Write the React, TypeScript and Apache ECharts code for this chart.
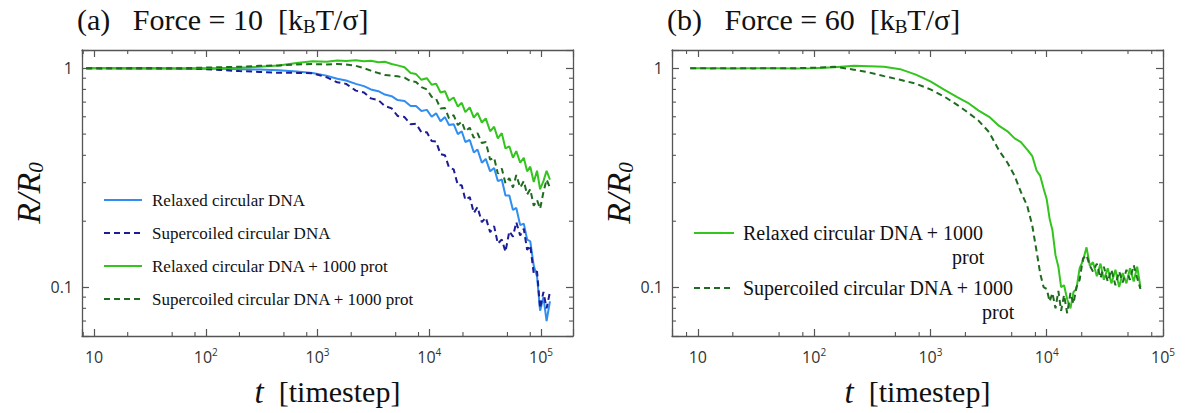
import React, { useEffect, useRef } from 'react';
import * as echarts from 'echarts';

// ---------- Data ----------
// Panel (a): Force = 10
const tLeft = [8.5, 12, 18, 27, 40, 60, 90, 135, 200, 300, 450, 650, 900, 1200, 1500, 1800, 2200, 2600, 3000, 3500, 4000, 4600, 5200, 6000, 6800, 7600, 8500, 9500, 10500, 11500, 12600, 13800, 15000, 16500, 18000, 19500, 21000, 23000, 25000, 27000, 29500, 32000, 35000, 38000, 41000, 44500, 48000, 52000, 56000, 60000, 65000, 70000, 75000, 80000, 86000, 92000, 98000, 105000, 112000, 120000];
const relaxedF10 = [1.0, 1.0, 0.997, 1.0, 0.996, 0.998, 0.995, 0.993, 0.99, 0.986, 0.978, 0.965, 0.95, 0.925, 0.895, 0.878, 0.848, 0.828, 0.8, 0.785, 0.758, 0.745, 0.715, 0.708, 0.672, 0.672, 0.638, 0.645, 0.6, 0.622, 0.572, 0.598, 0.55, 0.555, 0.5, 0.515, 0.46, 0.47, 0.412, 0.425, 0.37, 0.385, 0.338, 0.35, 0.305, 0.31, 0.262, 0.262, 0.225, 0.23, 0.192, 0.195, 0.165, 0.162, 0.125, 0.112, 0.078, 0.09, 0.07, 0.086];
const supercoiledF10 = [1.0, 0.998, 1.0, 0.996, 0.998, 0.995, 0.992, 0.982, 0.97, 0.962, 0.953, 0.952, 0.948, 0.91, 0.862, 0.848, 0.79, 0.775, 0.728, 0.715, 0.672, 0.655, 0.605, 0.598, 0.555, 0.558, 0.51, 0.51, 0.465, 0.462, 0.405, 0.4, 0.352, 0.345, 0.292, 0.292, 0.25, 0.258, 0.218, 0.232, 0.198, 0.208, 0.178, 0.19, 0.158, 0.165, 0.145, 0.18, 0.17, 0.198, 0.172, 0.185, 0.148, 0.155, 0.115, 0.118, 0.08, 0.095, 0.08, 0.095];
const relaxedProtF10 = [1.0, 1.0, 1.002, 1.0, 1.0, 0.998, 1.0, 1.002, 1.005, 1.015, 1.03, 1.055, 1.075, 1.07, 1.085, 1.078, 1.088, 1.075, 1.082, 1.065, 1.07, 1.045, 1.03, 1.01, 0.95, 0.94, 0.885, 0.9, 0.84, 0.85, 0.775, 0.785, 0.71, 0.735, 0.668, 0.695, 0.63, 0.662, 0.595, 0.625, 0.565, 0.59, 0.515, 0.54, 0.478, 0.505, 0.43, 0.44, 0.39, 0.418, 0.37, 0.39, 0.338, 0.355, 0.302, 0.34, 0.28, 0.305, 0.34, 0.31];
const supercoiledProtF10 = [1.0, 1.0, 1.0, 1.003, 1.0, 1.0, 1.005, 1.01, 1.015, 1.025, 1.03, 1.04, 1.045, 1.04, 1.045, 1.04, 1.025, 1.0, 0.975, 0.95, 0.93, 0.925, 0.918, 0.905, 0.872, 0.865, 0.82, 0.8, 0.74, 0.725, 0.655, 0.658, 0.59, 0.61, 0.55, 0.57, 0.515, 0.535, 0.48, 0.505, 0.455, 0.46, 0.382, 0.39, 0.33, 0.348, 0.298, 0.315, 0.285, 0.325, 0.285, 0.305, 0.265, 0.28, 0.235, 0.25, 0.228, 0.272, 0.31, 0.285];

// Panel (b): Force = 60
const tRight = [8.6, 13, 20, 30, 45, 70, 100, 150, 220, 300, 400, 550, 750, 1000, 1300, 1700, 2100, 2600, 3200, 3900, 4600, 5300, 6000, 6800, 7500, 8200, 8800, 9400, 10000, 10600, 11200, 11900, 12600, 13300, 14100, 15000, 16000, 17000, 18000, 19200, 20500, 22000, 23500, 25000, 27000, 29000, 31000, 33500, 36000, 39000, 42000, 45000, 48500, 52000, 56000, 60000, 64000];
const relaxedProtF60 = [1.0, 1.0, 0.998, 1.0, 1.0, 0.998, 1.0, 1.01, 1.025, 1.022, 1.015, 0.99, 0.935, 0.87, 0.8, 0.738, 0.695, 0.64, 0.6, 0.545, 0.515, 0.478, 0.46, 0.425, 0.398, 0.34, 0.322, 0.282, 0.252, 0.205, 0.182, 0.14, 0.124, 0.1, 0.102, 0.088, 0.08, 0.095, 0.098, 0.122, 0.132, 0.152, 0.125, 0.13, 0.112, 0.128, 0.108, 0.122, 0.104, 0.12, 0.1, 0.116, 0.104, 0.122, 0.106, 0.124, 0.1];
const supercoiledProtF60 = [1.0, 0.998, 1.0, 0.998, 1.0, 1.0, 1.005, 1.015, 0.985, 0.955, 0.92, 0.885, 0.85, 0.8, 0.745, 0.68, 0.628, 0.575, 0.51, 0.42, 0.37, 0.322, 0.272, 0.235, 0.192, 0.145, 0.115, 0.1, 0.098, 0.086, 0.094, 0.08, 0.096, 0.078, 0.092, 0.076, 0.094, 0.084, 0.1, 0.108, 0.135, 0.14, 0.125, 0.118, 0.128, 0.11, 0.124, 0.106, 0.12, 0.102, 0.118, 0.105, 0.12, 0.108, 0.126, 0.11, 0.098];

const seriesNames = [
  'Relaxed circular DNA',
  'Supercoiled circular DNA',
  'Relaxed circular DNA + 1000 prot',
  'Supercoiled circular DNA + 1000 prot',
];

// Axis ranges and tick positions
const xRangeLeft = [7.8, 1.93e5];
const xRangeRight = [6.0, 1.0e5];
const yRange = [0.0598, 1.211];
const xMinorTicks = [8, 20, 50, 80, 200, 500, 800, 2000, 5000, 8000, 20000, 50000, 80000];
const yMinorTicks = [0.07, 0.08, 0.09, 0.2, 0.3, 0.4, 0.5, 0.6, 0.7, 0.8, 0.9];

// ---------- Styles ----------
const SERIF = 'Liberation Serif';
const SANS = 'Open Sans';
const AXIS_COLOR = '#555';
const COLORS = {
  relaxed: '#2f8ef0',
  supercoiled: '#1c1c96',
  relaxedProt: '#33c41e',
  supercoiledProt: '#1f6b1f',
};

const zip = (t: number[], r: number[]) => t.map((v, i) => [v, r[i]]);
const isPow10 = (v: number) => {
  const e = Math.log10(v);
  return Math.abs(e - Math.round(e)) < 1e-6;
};
const xLabelFmt = (v: number) => {
  if (!isPow10(v)) return '';
  const e = Math.round(Math.log10(v));
  return e === 1 ? '10' : `10{sup|${e}}`;
};
const yLabelFmt = (v: number) => {
  if (!isPow10(v)) return '';
  const e = Math.round(Math.log10(v));
  return e === 0 ? '1' : String(Math.pow(10, e));
};

const axisLine = { show: true, onZero: false, lineStyle: { color: AXIS_COLOR, width: 1.3 } };
const axisTick = { show: true, inside: true, length: 7, lineStyle: { color: AXIS_COLOR, width: 1.2 } };

function makeX(gridIndex: number, range: number[], position: 'bottom' | 'top', withLabels: boolean) {
  return {
    type: 'log',
    logBase: 10,
    gridIndex,
    position,
    min: range[0],
    max: range[1],
    splitNumber: 5,
    axisLine,
    axisTick,
    splitLine: { show: false },
    minorTick: { show: false },
    axisLabel: withLabels
      ? {
          show: true,
          margin: 11,
          interval: 0,
          showMinLabel: true,
          showMaxLabel: true,
          formatter: xLabelFmt,
          fontFamily: SANS,
          fontSize: 16,
          color: '#333',
          lineHeight: 20,
          rich: {
            sup: { fontFamily: SANS, fontSize: 10, color: '#333', verticalAlign: 'top', lineHeight: 12 },
          },
        }
      : { show: false },
    name: withLabels ? '{i|t}  [timestep]' : '',
    nameLocation: 'middle',
    nameGap: 39,
    nameTextStyle: {
      fontFamily: SERIF,
      fontSize: 30,
      color: '#111',
      rich: { i: { fontFamily: SERIF, fontSize: 33, fontStyle: 'italic', color: '#111' } },
    },
  };
}

function makeY(gridIndex: number, position: 'left' | 'right', withLabels: boolean, nameGap: number) {
  return {
    type: 'log',
    logBase: 10,
    gridIndex,
    position,
    min: yRange[0],
    max: yRange[1],
    axisLine,
    axisTick,
    splitLine: { show: false },
    minorTick: { show: false },
    axisLabel: withLabels
      ? { show: true, margin: 9, formatter: yLabelFmt, fontFamily: SANS, fontSize: 16, color: '#333', showMinLabel: true, showMaxLabel: true }
      : { show: false },
    name: withLabels ? '{i|R/R}{s|0}' : '',
    nameLocation: 'middle',
    nameRotate: 90,
    nameGap,
    nameTextStyle: {
      color: '#111',
      rich: {
        i: { fontFamily: SERIF, fontSize: 34, fontStyle: 'italic', color: '#111', lineHeight: 36 },
        s: { fontFamily: SERIF, fontSize: 21, fontStyle: 'italic', color: '#111', verticalAlign: 'bottom', lineHeight: 20 },
      },
    },
  };
}

function minorTickSeries(xAxisIndex: number, yAxisIndex: number, xRange: number[]) {
  const tickStyle = { stroke: AXIS_COLOR, lineWidth: 1.1 };
  const xs = xMinorTicks.filter((v) => v > xRange[0] && v < xRange[1]);
  const xSeries = {
    type: 'custom',
    xAxisIndex,
    yAxisIndex,
    silent: true,
    clip: false,
    z: 5,
    data: xs.map((v) => [v, 0.5]),
    renderItem: (params: any, api: any) => {
      const cs = params.coordSys;
      const x = api.coord([api.value(0), api.value(1)])[0];
      const b = cs.y + cs.height;
      const t = cs.y;
      return {
        type: 'group',
        children: [
          { type: 'line', shape: { x1: x, y1: b, x2: x, y2: b - 4 }, style: tickStyle },
          { type: 'line', shape: { x1: x, y1: t, x2: x, y2: t + 4 }, style: tickStyle },
        ],
      };
    },
  };
  const ySeries = {
    type: 'custom',
    xAxisIndex,
    yAxisIndex,
    silent: true,
    clip: false,
    z: 5,
    data: yMinorTicks.map((v) => [100, v]),
    renderItem: (params: any, api: any) => {
      const cs = params.coordSys;
      const y = api.coord([api.value(0), api.value(1)])[1];
      const l = cs.x;
      const r = cs.x + cs.width;
      return {
        type: 'group',
        children: [
          { type: 'line', shape: { x1: l, y1: y, x2: l + 4, y2: y }, style: tickStyle },
          { type: 'line', shape: { x1: r, y1: y, x2: r - 4, y2: y }, style: tickStyle },
        ],
      };
    },
  };
  return [xSeries, ySeries];
}

function lineSeries(name: string, data: number[][], color: string, dashed: boolean, xAxisIndex: number, yAxisIndex: number) {
  return {
    type: 'line',
    name,
    data,
    xAxisIndex,
    yAxisIndex,
    showSymbol: false,
    symbol: 'none',
    color,
    lineStyle: { color, width: 2, type: dashed ? [6, 4] : 'solid' },
    z: 3,
  };
}

const legendTextBase = { fontFamily: SERIF, color: '#111' };

const titleStyle = {
  fontFamily: SERIF,
  fontSize: 30,
  fontWeight: 'normal',
  color: '#111',
  lineHeight: 34,
  rich: { sub: { fontFamily: SERIF, fontSize: 19, color: '#111', verticalAlign: 'bottom', lineHeight: 19 } },
};

const option = {
  animation: false,
  backgroundColor: '#fff',
  title: [
    { left: 77, top: 2, padding: 0, text: '(a)   Force = 10  [k{sub|B}T/σ]', textStyle: titleStyle },
    { left: 667, top: 2, padding: 0, text: '(b)   Force = 60  [k{sub|B}T/σ]', textStyle: titleStyle },
  ],
  grid: [
    { left: 82, top: 50, width: 491, height: 287.5, containLabel: false },
    { left: 672, top: 50, width: 491, height: 287.5, containLabel: false },
  ],
  xAxis: [
    makeX(0, xRangeLeft, 'bottom', true),
    makeX(0, xRangeLeft, 'top', false),
    makeX(1, xRangeRight, 'bottom', true),
    makeX(1, xRangeRight, 'top', false),
  ],
  yAxis: [
    makeY(0, 'left', true, 36),
    makeY(0, 'right', false, 0),
    makeY(1, 'left', true, 22),
    makeY(1, 'right', false, 0),
  ],
  legend: [
    {
      left: 103,
      top: 190,
      padding: 0,
      orient: 'vertical',
      itemWidth: 38,
      itemHeight: 14,
      itemGap: 13,
      selectedMode: false,
      data: seriesNames,
      itemStyle: { opacity: 0 },
      textStyle: { ...legendTextBase, fontSize: 17, lineHeight: 20, padding: [0, 0, 0, 5] },
    },
    {
      left: 693,
      top: 197,
      padding: 0,
      orient: 'vertical',
      itemWidth: 40,
      itemHeight: 14,
      itemGap: -17,
      selectedMode: false,
      data: [seriesNames[2], seriesNames[3]],
      itemStyle: { opacity: 0 },
      formatter: (name: string) => {
        const first = name.replace(' prot', '');
        return `\n{m|${first}}\n{r|prot}`;
      },
      textStyle: {
        ...legendTextBase,
        fontSize: 20,
        lineHeight: 24,
        padding: [0, 0, 0, 4],
        rich: {
          m: { ...legendTextBase, fontSize: 20, lineHeight: 24 },
          r: { ...legendTextBase, fontSize: 20, lineHeight: 24, align: 'right' },
        },
      },
    },
  ],
  series: [
    lineSeries(seriesNames[0], zip(tLeft, relaxedF10), COLORS.relaxed, false, 0, 0),
    lineSeries(seriesNames[1], zip(tLeft, supercoiledF10), COLORS.supercoiled, true, 0, 0),
    lineSeries(seriesNames[2], zip(tLeft, relaxedProtF10), COLORS.relaxedProt, false, 0, 0),
    lineSeries(seriesNames[3], zip(tLeft, supercoiledProtF10), COLORS.supercoiledProt, true, 0, 0),
    lineSeries(seriesNames[2], zip(tRight, relaxedProtF60), COLORS.relaxedProt, false, 2, 2),
    lineSeries(seriesNames[3], zip(tRight, supercoiledProtF60), COLORS.supercoiledProt, true, 2, 2),
    ...minorTickSeries(0, 0, xRangeLeft),
    ...minorTickSeries(2, 2, xRangeRight),
  ],
};

export default function App() {
  const ref = useRef<HTMLDivElement>(null);
  useEffect(() => {
    if (!ref.current) return;
    const chart = echarts.init(ref.current, null, { renderer: 'svg' });
    chart.setOption(option as any);
    return () => chart.dispose();
  }, []);
  return (
    <div
      ref={ref}
      style={{ position: 'fixed', left: 0, top: 0, width: 1186, height: 413, background: '#fff' }}
    />
  );
}
